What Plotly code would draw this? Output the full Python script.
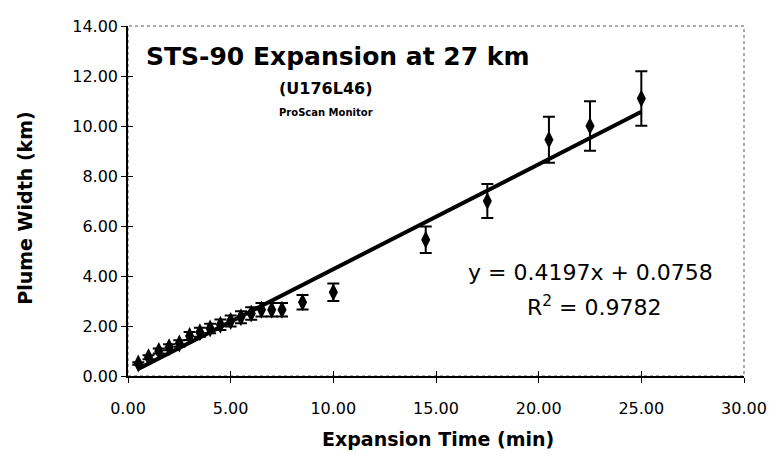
import plotly.graph_objects as go

# ---- data ----
time_min = [0.5, 1.0, 1.5, 2.0, 2.5, 3.0, 3.5, 4.0, 4.5, 5.0, 5.5, 6.0, 6.5, 7.0, 7.5,
            8.5, 10.0, 14.5, 17.5, 20.5, 22.5, 25.0]
width_km = [0.50, 0.75, 1.00, 1.15, 1.30, 1.60, 1.75, 1.90, 2.05, 2.20, 2.35, 2.50, 2.65, 2.65, 2.65,
            2.95, 3.35, 5.45, 7.00, 9.45, 10.00, 11.10]
err_km = [0.05, 0.08, 0.10, 0.12, 0.13, 0.16, 0.18, 0.19, 0.21, 0.22, 0.24, 0.25, 0.27, 0.27, 0.27,
          0.29, 0.35, 0.53, 0.68, 0.92, 0.99, 1.09]

fit_slope = 0.4197
fit_intercept = 0.0758
fit_r2 = 0.9782

x_ticks = [0, 5, 10, 15, 20, 25, 30]
y_ticks = [0, 2, 4, 6, 8, 10, 12, 14]

title_text = "STS-90 Expansion at 27 km"
subtitle_text = "(U176L46)"
subsub_text = "ProScan Monitor"
x_title = "Expansion Time (min)"
y_title = "Plume Width (km)"

FONT = "DejaVu Sans"

fit_x = [min(time_min), max(time_min)]
fit_y = [fit_slope * v + fit_intercept for v in fit_x]

fig = go.Figure()

fig.add_trace(go.Scatter(
    x=fit_x, y=fit_y, mode="lines",
    line=dict(color="black", width=4),
    showlegend=False, hoverinfo="skip"))

fig.add_trace(go.Scatter(
    x=time_min, y=width_km, mode="markers",
    marker=dict(symbol="diamond-tall", size=13, color="black"),
    error_y=dict(type="data", array=err_km, visible=True,
                 color="black", thickness=2, width=6),
    showlegend=False))

# invisible trace for the overlay axes (inner halves of the crossing ticks)
fig.add_trace(go.Scatter(x=[None], y=[None], xaxis="x2", yaxis="y2",
                         showlegend=False, hoverinfo="skip"))

tickfont = dict(family=FONT, size=16, color="black")

# The page body has an 8px default margin, so the figure is 768x448 and
# sits at (8, 8) inside the 776x456 window.
fig.update_layout(
    width=768, height=448,
    margin=dict(l=120, r=24, t=9, b=80),
    paper_bgcolor="white", plot_bgcolor="white",
    xaxis=dict(range=[0, 30], tickvals=x_ticks, tickformat=".2f",
               ticks="outside", ticklen=5, tickwidth=1, tickcolor="black",
               showline=True, linecolor="black", linewidth=1.5,
               showgrid=False, zeroline=False, tickfont=tickfont,
               ticklabelstandoff=12, ticklabeloverflow="allow"),
    yaxis=dict(range=[0, 14], tickvals=y_ticks, tickformat=".2f",
               ticks="outside", ticklen=5, tickwidth=1, tickcolor="black",
               showline=True, linecolor="black", linewidth=1.5,
               showgrid=False, zeroline=False, tickfont=tickfont,
               ticklabelstandoff=0, ticklabeloverflow="allow"),
    xaxis2=dict(range=[0, 30], tickvals=x_ticks, overlaying="x", anchor="y",
                side="bottom", ticks="inside", ticklen=5, tickwidth=1,
                tickcolor="black", showticklabels=False, showline=False,
                showgrid=False, zeroline=False),
    yaxis2=dict(range=[0, 14], tickvals=y_ticks, overlaying="y", anchor="x",
                side="left", ticks="inside", ticklen=5, tickwidth=1,
                tickcolor="black", showticklabels=False, showline=False,
                showgrid=False, zeroline=False),
    shapes=[dict(type="rect", xref="paper", yref="paper", x0=0, x1=1, y0=0, y1=1,
                 line=dict(color="#555555", width=1, dash="dot"), layer="below")],
    showlegend=False,
)

def ann(text, x, y, size, bold=False, **kw):
    fig.add_annotation(text=f"<b>{text}</b>" if bold else text,
                       xref="paper", yref="paper", x=x, y=y,
                       showarrow=False, xanchor="center", yanchor="middle",
                       font=dict(family=FONT, size=size, color="black"), **kw)

# plot area in window pixels: x 128..752, y 17..376
def px(xp):
    return (xp - 128) / 624.0

def py(yp):
    return (376 - yp) / 359.0

ann(title_text, px(341), py(48), 25, bold=True)
ann(subtitle_text, px(328), py(81), 16, bold=True)
ann(subsub_text, px(329), py(106), 10, bold=True)
ann(f"y = {fit_slope}x + {fit_intercept}", px(596), py(270), 22)
ann(f"R<sup>2</sup> = {fit_r2}", px(601), py(304), 22)
ann(x_title, px(442), py(441), 19, bold=True)
ann(y_title, px(24), py(204), 19, bold=True, textangle=-90)

fig.write_html("out.html")
